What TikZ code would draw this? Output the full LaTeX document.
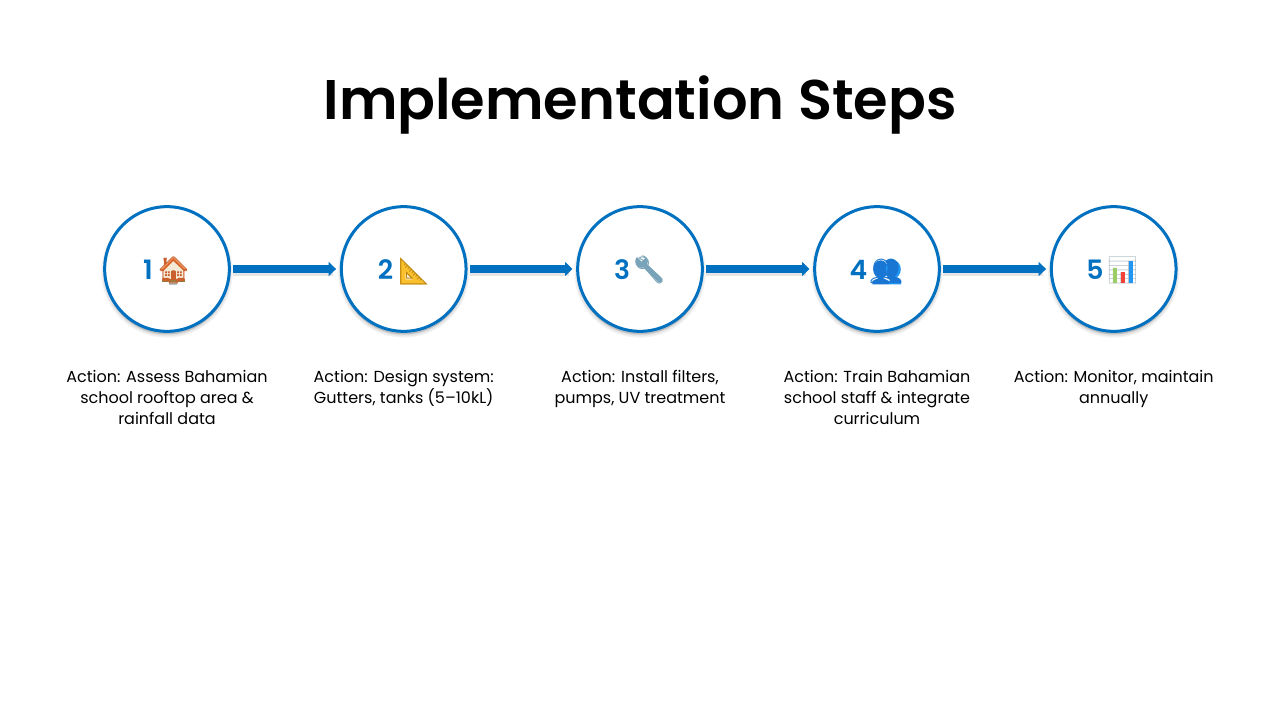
\documentclass[tikz,border=0pt]{standalone}
\usepackage{fontspec}
\usetikzlibrary{arrows.meta}
\setmainfont{Poppins}[BoldFont={Poppins SemiBold}]
\newfontfamily\emojifont{Noto Emoji}
\definecolor{stepblue}{HTML}{0070C0}
\definecolor{houseorange}{HTML}{C9602E}
\definecolor{roofhue}{HTML}{EE7B3A}
\definecolor{housecream}{HTML}{F4E9D4}
\definecolor{grasshue}{HTML}{7C8F45}
\definecolor{rulergold}{HTML}{FBC02D}
\definecolor{rulerline}{HTML}{B98412}
\definecolor{wrenchblue}{HTML}{78A3B8}
\definecolor{peopledark}{HTML}{1976D2}
\definecolor{peoplelight}{HTML}{2196F3}
\definecolor{chartgrey}{HTML}{B4C2C9}
\definecolor{bargreen}{HTML}{9CCC65}
\definecolor{barred}{HTML}{F44336}
\tikzset{
  x=0.75pt,y=-0.75pt,
  softshadow/.style={preaction={draw=black,fill=black,draw opacity=.05,fill opacity=.05,line width=#1,transform canvas={yshift=-2.2pt}}},
  stepcircle/.style={circle,draw=stepblue,line width=2.25pt,fill=white,minimum size=93.5pt,inner sep=0pt,outer sep=0pt,
    softshadow=5pt,softshadow=3pt,softshadow=1pt},
  numlabel/.style={text=stepblue,font=\fontsize{20pt}{24pt}\selectfont\bfseries,inner sep=0pt,anchor=base},
  icon/.style={font=\fontsize{20pt}{24pt}\selectfont\emojifont,inner sep=0pt,anchor=base},
  actionlabel/.style={align=center,font=\fontsize{12pt}{15.75pt}\selectfont,text=black,anchor=north,inner sep=0pt},
  flowarrow/.style={draw=stepblue,line width=6pt,-{Triangle[length=5.5pt,width=10.5pt]},shorten >=4pt,shorten <=3pt},
  flowshadow/.style={draw=black,draw opacity=.10,line width=7pt,shorten >=6.5pt,shorten <=3pt,transform canvas={yshift=-1.5pt}},
}
\begin{document}
\begin{tikzpicture}
\useasboundingbox (0,0) rectangle (1280,720);
\node[font=\fontsize{41.9pt}{50pt}\selectfont\bfseries,text=black,inner sep=0pt] (title) at (640,104.5) {Implementation Steps};
\foreach \n/\cx in {1/167,2/403.7,3/640,4/877,5/1113.7}{
  \node[stepcircle] (c\n) at (\cx,269) {};
}
\foreach \a/\b in {1/2,2/3,3/4,4/5}{
  \draw[flowshadow] (c\a) -- (c\b);
  \draw[flowarrow] (c\a) -- (c\b);
}
% icon colour fills
\fill[housecream] (163.5,268) -- (173.3,259) -- (184,268) -- (184,280) -- (163.5,280) -- cycle;
\fill[roofhue] (160,271) -- (173.3,257.3) -- (187.3,271) -- (184,271) -- (173.3,261) -- (163.5,271) -- cycle;
\fill[grasshue] (162,279) rectangle (185,282);
\fill[chartgrey] (169,282) rectangle (177,285);
\fill[houseorange] (171,271) rectangle (176,280);
\fill[rulergold] (400,257.3) -- (400,284.3) -- (426.7,284.3) -- cycle;
\fill[white] (405.7,273.3) -- (405.7,279.3) -- (412.3,279.3) -- cycle;
\draw[wrenchblue,line width=3.6pt,line cap=round] (645,265.5) -- (659.5,280);
\fill[wrenchblue] (641.5,261.5) circle[radius=6.3];
\fill[white] (636,256) -- (641.5,261.5) -- (645,258) -- (640,254) -- cycle;
\fill[peopledark] (880.7,269.3) ellipse[x radius=7.5,y radius=9];
\fill[peoplelight] (893.3,269.3) ellipse[x radius=7.5,y radius=9];
\fill[peopledark] (872.3,284.3) -- (872.3,281) -- (880.7,277) -- (889,281) -- (889,284.3) -- cycle;
\fill[peoplelight] (889,284.3) -- (889,281) -- (893.3,277) -- (901,281) -- (901,284.3) -- cycle;
\node[numlabel] (n1) at (148,279) {1};
\node[icon,text=houseorange] (i1) at (173.5,279) {🏠};
\node[numlabel] (n2) at (385.5,279) {2};
\node[icon,text=rulerline] (i2) at (414,280) {📐};
\node[numlabel] (n3) at (622,279) {3};
\node[icon,text=wrenchblue] (i3) at (649.5,279) {🔧};
\node[numlabel] (n4) at (858.5,279) {4};
\node[icon,text=peopledark] (i4) at (886,280) {👥};
\node[numlabel] (n5) at (1095,279) {5};
\node[icon,text=chartgrey] (i5) at (1122.5,279) {📊};
\fill[bargreen] (1113.3,268.3) rectangle (1117.3,283.3);
\fill[barred] (1121,272.3) rectangle (1125,283.3);
\fill[peoplelight] (1128.7,261) rectangle (1132.7,283.3);
\node[actionlabel] (a1) at (167,370) {Action: Assess Bahamian\\school rooftop area \&\\rainfall data};
\node[actionlabel] (a2) at (403.7,370) {Action: Design system:\\Gutters, tanks (5–10kL)};
\node[actionlabel] (a3) at (640,370) {Action: Install filters,\\pumps, UV treatment};
\node[actionlabel] (a4) at (877,370) {Action: Train Bahamian\\school staff \& integrate\\curriculum};
\node[actionlabel] (a5) at (1113.7,370) {Action: Monitor, maintain\\annually};
\end{tikzpicture}
\end{document}
